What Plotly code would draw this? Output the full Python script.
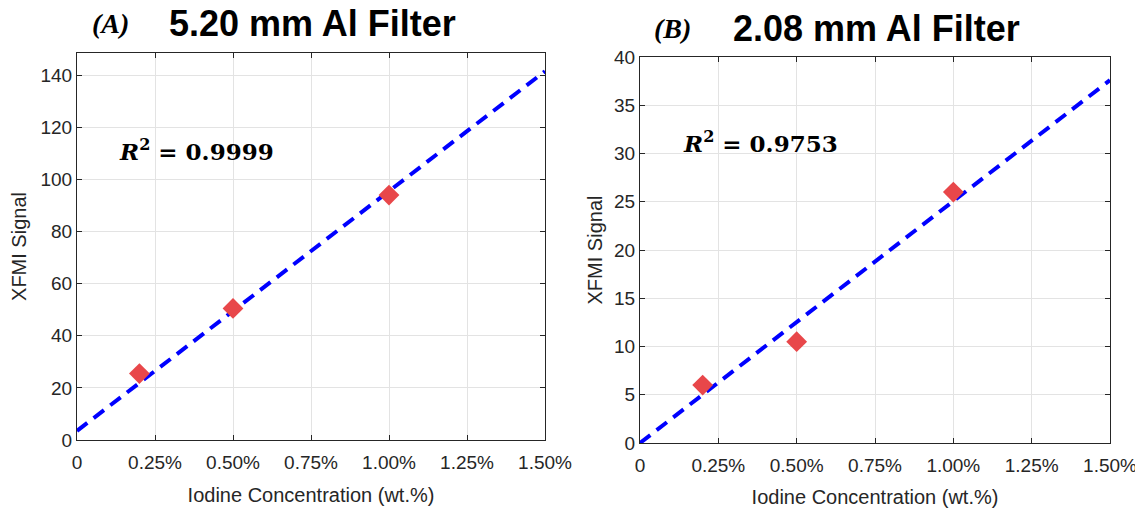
import plotly.graph_objects as go

# Data
conc = [0.2, 0.5, 1.0]                  # iodine concentration (wt.%)
signal_a = [25.5, 50.5, 94.0]           # 5.20 mm Al filter
signal_b = [6.0, 10.5, 26.0]            # 2.08 mm Al filter
fit_x = [0.0, 1.5]
fit_a = [3.5, 141.5]
fit_b = [0.0, 37.6]
x_tickvals = [0, 0.25, 0.5, 0.75, 1.0, 1.25, 1.5]
x_ticktext = ["0", "0.25%", "0.50%", "0.75%", "1.00%", "1.25%", "1.50%"]
ya_ticks = [0, 20, 40, 60, 80, 100, 120, 140]
yb_ticks = [0, 5, 10, 15, 20, 25, 30, 35, 40]

OFF = 8  # page body margin
W, H = 1143 - OFF, 508 - OFF
fig = go.Figure()

mk = dict(symbol="diamond", size=16, color="#e8474a")
ln = dict(color="#0000ff", width=4, dash="13px,8px")

fig.add_trace(go.Scatter(x=fit_x, y=fit_a, mode="lines", line=ln, xaxis="x", yaxis="y", showlegend=False))
fig.add_trace(go.Scatter(x=conc, y=signal_a, mode="markers", marker=mk, xaxis="x", yaxis="y", showlegend=False))
fig.add_trace(go.Scatter(x=fit_x, y=fit_b, mode="lines", line=ln, xaxis="x2", yaxis="y2", showlegend=False))
fig.add_trace(go.Scatter(x=conc, y=signal_b, mode="markers", marker=mk, xaxis="x2", yaxis="y2", showlegend=False))

tickfont = dict(family="Arial, Liberation Sans, sans-serif", size=19, color="#262626")
titlefont = dict(family="Arial, Liberation Sans, sans-serif", size=20, color="#262626")
common = dict(showline=True, linecolor="#262626", linewidth=1.2, mirror="ticks",
              ticks="inside", ticklen=5, tickcolor="#262626", showgrid=True,
              gridcolor="#e3e3e3", gridwidth=1, zeroline=False, tickfont=tickfont,
              automargin=False)

def fx(px): return (px - OFF) / W
def fy(py): return 1 - (py - OFF) / H

fig.update_layout(
    width=W, height=H, margin=dict(l=0, r=0, t=0, b=0, autoexpand=False),
    paper_bgcolor="white", plot_bgcolor="white",
    xaxis=dict(domain=[fx(77), fx(545)], range=[0, 1.5], tickvals=x_tickvals, ticktext=x_ticktext,
               ticklabelstandoff=5, anchor="y",
               title=dict(text="Iodine Concentration (wt.%)", font=titlefont, standoff=16), **common),
    yaxis=dict(domain=[fy(440), fy(53)], range=[0, 148.5], tickvals=ya_ticks, anchor="x",
               title=dict(text="XFMI Signal", font=titlefont, standoff=11), **common),
    xaxis2=dict(domain=[fx(640), fx(1110)], range=[0, 1.5], tickvals=x_tickvals, ticktext=x_ticktext,
                ticklabelstandoff=5, anchor="y2",
                title=dict(text="Iodine Concentration (wt.%)", font=titlefont, standoff=16), **common),
    yaxis2=dict(domain=[fy(443), fy(57)], range=[0, 40], tickvals=yb_ticks, anchor="x2",
                title=dict(text="XFMI Signal", font=titlefont, standoff=5), **common),
)

serif_it = dict(family="Liberation Serif, Times New Roman, serif", size=28, color="black")
head = dict(family="Liberation Sans, Arial, sans-serif", size=36, color="black")
r2font = dict(family="DejaVu Serif, serif", size=23, color="black")

ann = [
    dict(x=fx(110), y=fy(23), text="<b><i>(A)</i></b>", font=serif_it),
    dict(x=fx(312), y=fy(23), text="<b>5.20 mm Al Filter</b>", font=head),
    dict(x=fx(672), y=fy(28), text="<b><i>(B)</i></b>", font=serif_it),
    dict(x=fx(876), y=fy(28), text="<b>2.08 mm Al Filter</b>", font=head),
    dict(x=fx(196), y=fy(150), text="<b><i>R</i><sup>2</sup> = 0.9999</b>", font=r2font),
    dict(x=fx(760), y=fy(142), text="<b><i>R</i><sup>2</sup> = 0.9753</b>", font=r2font),
]
for a in ann:
    fig.add_annotation(xref="paper", yref="paper", showarrow=False, xanchor="center", yanchor="middle", **a)

fig.write_html("out.html")
